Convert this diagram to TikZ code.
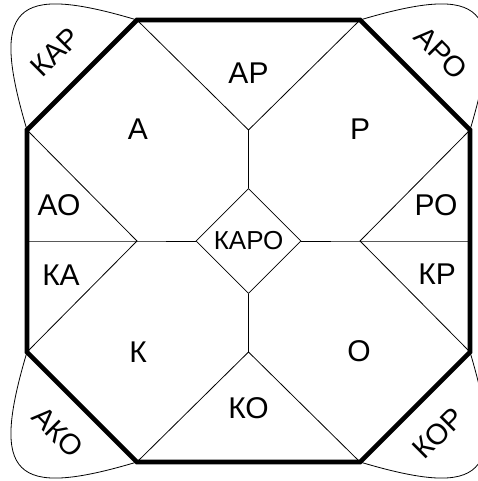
\documentclass[tikz,border=0pt]{standalone}
\usepackage{fontspec}
\setmainfont{Liberation Sans}
\usetikzlibrary{shapes.geometric,positioning}

\begin{document}
\begin{tikzpicture}[x=1pt, y=-1pt,
    thinline/.style={line width=0.8pt},
    octline/.style={line width=4.6pt},
    region/.style={inner sep=0pt, font=\fontsize{30}{30}\selectfont},
    petaltext/.style={inner sep=0pt, font=\fontsize{29}{29}\selectfont},
    centrebox/.style={draw, diamond, thinline, inner sep=0pt, aspect=1,
        minimum width=105pt, minimum height=105pt, font=\fontsize{26}{26}\selectfont}
]
\useasboundingbox (0,0) rectangle (477,481);

\coordinate (tl) at (137,20);
\coordinate (tr) at (360,20);
\coordinate (rt) at (470,130);
\coordinate (rb) at (470,352);
\coordinate (br) at (360,462);
\coordinate (bl) at (137,462);
\coordinate (lb) at (27,352);
\coordinate (lt) at (27,130);
\coordinate (lm) at (27,241);
\coordinate (rm) at (470,241);

\coordinate (jt) at (248.5,130);
\coordinate (jb) at (248.5,352);
\coordinate (jl) at (137,241);
\coordinate (jr) at (360,241);

\node[centrebox] (karo) at (248.5,241) {КАРО};

\node[region] (ap) at (248.5,73) {АР};
\node[region] (a) at (138,129) {А};
\node[region] (p) at (360,129) {Р};
\node[region] (ao) at (59,205) {АО};
\node[region] (ka) at (61,275) {КА};
\node[region] (po) at (436,205) {РО};
\node[region] (kp) at (437,274) {КР};
\node[region] (k) at (138,352) {К};
\node[region] (o) at (359,351) {О};
\node[region] (ko) at (248.5,408) {КО};

\node[petaltext, rotate=45] (kap) at (55,52) {КАР};
\node[petaltext, rotate=-45] (apo) at (441,53) {АРО};
\node[petaltext, rotate=-45] (ako) at (58,432) {АКО};
\node[petaltext, rotate=45] (kop) at (438,433) {КОР};

\draw[thinline] (tl) -- (jt) -- (tr);
\draw[thinline] (jt) -- (karo.north);
\draw[thinline] (bl) -- (jb) -- (br);
\draw[thinline] (jb) -- (karo.south);
\draw[thinline] (lt) -- (jl) -- (lb);
\draw[thinline] (lm) -- (jl) -- (karo.west);
\draw[thinline] (rt) -- (jr) -- (rb);
\draw[thinline] (rm) -- (jr) -- (karo.east);

\draw[octline] (tl) -- (tr) -- (rt) -- (rb) -- (br) -- (bl) -- (lb) -- (lt) -- cycle;

\draw[thinline] (tl) .. controls (13,-17) and (-10,6) .. (lt);
\draw[thinline] (tr) .. controls (484,-17) and (507,6) .. (rt);
\draw[thinline] (bl) .. controls (13,499) and (-10,476) .. (lb);
\draw[thinline] (br) .. controls (484,499) and (507,476) .. (rb);
\end{tikzpicture}
\end{document}
